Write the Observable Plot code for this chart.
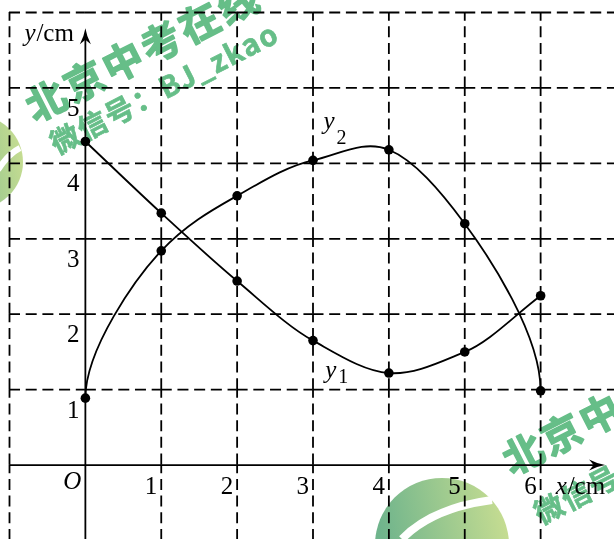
<!DOCTYPE html>
<html>
<head>
<meta charset="utf-8">
<script src="https://cdn.jsdelivr.net/npm/d3@7"></script>
<script src="https://cdn.jsdelivr.net/npm/@observablehq/plot@0.6"></script>
<style>
  html, body { margin: 0; padding: 0; background: #fff; overflow: hidden; }
  #wrap { position: relative; width: 614px; height: 539px; }
  #wrap > svg { display: block; }
  #stamp { position: absolute; left: 0; top: 0; pointer-events: none; mix-blend-mode: multiply; }
</style>
</head>
<body>
<div id="wrap"></div>
<script>
// Measured values of the two quantities at x = 0 … 6 cm
const xs = [0, 1, 2, 3, 4, 5, 6];
const y1 = [4.29, 3.34, 2.44, 1.65, 1.22, 1.50, 2.245];
const y2 = [0.887, 2.84, 3.57, 4.04, 4.18, 3.20, 0.985];

// Tick labels and grid positions
const xTicks = [1, 2, 3, 4, 5, 6];
const yTicks = [1, 2, 3, 4, 5];
const xGrid = [-1, 1, 2, 3, 4, 5, 6];
const yGrid = [1, 2, 3, 4, 5, 6];

// Curve names with subscripts
const curveNames = ["y", "y"];
const curveSubs = ["1", "2"];

const SERIF = "Liberation Serif";

// Smooth cubic Hermite curve through the points. Inner tangents use the
// harmonic mean of the neighbouring slopes when they agree in sign and their
// average otherwise; the end tangents follow the end chords or are vertical.
function hermite(verticalEnds) {
  return function (context) {
    let pts = [];
    return {
      areaStart() {}, areaEnd() {},
      lineStart() { pts = []; },
      point(x, y) { pts.push([+x, +y]); },
      lineEnd() {
        const n = pts.length;
        if (!n) return;
        context.moveTo(pts[0][0], pts[0][1]);
        if (n === 1) return;
        const tan = pts.map((p, i) => {
          if (i === 0) return verticalEnds ? [0, pts[1][1] - p[1]] : [pts[1][0] - p[0], pts[1][1] - p[1]];
          if (i === n - 1) return verticalEnds ? [0, p[1] - pts[n - 2][1]] : [p[0] - pts[n - 2][0], p[1] - pts[n - 2][1]];
          const a = pts[i - 1], b = pts[i + 1];
          const s0 = (p[1] - a[1]) / (p[0] - a[0]);
          const s1 = (b[1] - p[1]) / (b[0] - p[0]);
          const m = s0 * s1 > 0 ? 2 / (1 / s0 + 1 / s1) : (s0 + s1) / 2;
          const dx = (b[0] - a[0]) / 2;
          return [dx, m * dx];
        });
        for (let i = 0; i < n - 1; i++) {
          const a = pts[i], b = pts[i + 1], ta = tan[i], tb = tan[i + 1];
          context.bezierCurveTo(a[0] + ta[0] / 3, a[1] + ta[1] / 3, b[0] - tb[0] / 3, b[1] - tb[1] / 3, b[0], b[1]);
        }
      }
    };
  };
}

// Filled arrowheads (tip at the symbol origin)
const arrowUp = {
  draw(ctx) {
    ctx.moveTo(0, 0);
    ctx.quadraticCurveTo(1.3, 8, 5.5, 16);
    ctx.lineTo(0, 11.5);
    ctx.lineTo(-5.5, 16);
    ctx.quadraticCurveTo(-1.3, 8, 0, 0);
    ctx.closePath();
  }
};
const arrowRight = {
  draw(ctx) {
    ctx.moveTo(0, 0);
    ctx.quadraticCurveTo(-8, 1.3, -16, 5.5);
    ctx.lineTo(-11.5, 0);
    ctx.lineTo(-16, -5.5);
    ctx.quadraticCurveTo(-8, -1.3, 0, 0);
    ctx.closePath();
  }
};

const series1 = xs.map((x, i) => ({x, y: y1[i]}));
const series2 = xs.map((x, i) => ({x, y: y2[i]}));

// Dashed grid drawn cell edge by cell edge, so every crossing gets a dash
const hSeg = yGrid.flatMap(y => d3.range(-1, 7).map(x => ({y, x1: x, x2: x + 1})));
const vSeg = xGrid.flatMap(x => d3.range(-1, 6).map(y => ({x, y1: y, y2: y + 1})));
const dash = {stroke: "black", strokeWidth: 1.8, strokeDasharray: "11,5.7"};

const labelPos = [{x: 3.16, y: 1.15, sy: 1.093}, {x: 3.14, y: 4.45, sy: 4.26}];
const names = labelPos.map((p, i) => ({...p, name: curveNames[i], sub: curveSubs[i]}));

const txt = {fontFamily: SERIF, fontSize: 25, lineAnchor: "bottom", fill: "black"};

const chart = Plot.plot({
  width: 614,
  height: 539,
  marginLeft: 9,
  marginRight: -2,
  marginTop: 12,
  marginBottom: -1,
  x: {domain: [-1, 7], axis: null},
  y: {domain: [-1, 6], axis: null},
  style: {background: "white", fontFamily: SERIF},
  marks: [
    Plot.ruleY(hSeg, {y: "y", x1: "x1", x2: "x2", ...dash}),
    Plot.ruleX(vSeg, {x: "x", y1: "y1", y2: "y2", ...dash}),
    // axes
    Plot.ruleY([0], {x1: -1, x2: 6.75, stroke: "black", strokeWidth: 1.8}),
    Plot.ruleX([0], {y1: -1.2, y2: 5.7, stroke: "black", strokeWidth: 1.8}),
    Plot.dot([0], {x: 0, y: 5.79, symbol: arrowUp, r: 6, fill: "black", stroke: "none"}),
    Plot.dot([0], {x: 6.85, y: 0, symbol: arrowRight, r: 6, fill: "black", stroke: "none"}),
    // curves and measured points
    Plot.line(series1, {x: "x", y: "y", curve: hermite(false), stroke: "black", strokeWidth: 1.8}),
    Plot.line(series2, {x: "x", y: "y", curve: hermite(true), stroke: "black", strokeWidth: 1.8}),
    Plot.dot(series1, {x: "x", y: "y", r: 4.8, fill: "black"}),
    Plot.dot(series2, {x: "x", y: "y", r: 4.8, fill: "black"}),
    // tick labels
    Plot.text(yTicks, {x: 0, y: d => d, text: d => String(d), textAnchor: "end", dx: -6, dy: 28, ...txt}),
    Plot.text(xTicks, {x: d => d, y: 0, text: d => String(d), textAnchor: "end", dx: -4, dy: 29, ...txt}),
    Plot.text(["O"], {x: 0, y: 0, text: d => d, textAnchor: "end", dx: -4, dy: 24, fontStyle: "italic", ...txt}),
    // axis names
    Plot.text(["y"], {x: 0, y: 6, text: d => d, textAnchor: "start", dx: -61, dy: 28, fontStyle: "italic", ...txt}),
    Plot.text(["/cm"], {x: 0, y: 6, text: d => d, textAnchor: "start", dx: -49, dy: 28, ...txt}),
    Plot.text(["x"], {x: 6, y: 0, text: d => d, textAnchor: "start", dx: 15, dy: 29, fontStyle: "italic", ...txt}),
    Plot.text(["/cm"], {x: 6, y: 0, text: d => d, textAnchor: "start", dx: 27, dy: 29, ...txt}),
    // curve names y₁, y₂
    Plot.text(names, {x: "x", y: "y", text: "name", textAnchor: "start", fontStyle: "italic", ...txt}),
    Plot.text(names, {x: "x", y: "sy", text: "sub", textAnchor: "start", dx: 13, ...txt, fontSize: 20})
  ]
});

const wrap = document.getElementById("wrap");
wrap.appendChild(chart);

// Publisher stamp laid over the figure
const stamp = `
<svg id="stamp" width="614" height="539" xmlns="http://www.w3.org/2000/svg">
  <defs>
    <linearGradient id="lg" x1="0" y1="0.2" x2="1" y2="0">
      <stop offset="0" stop-color="#6fb48c"/>
      <stop offset="1" stop-color="#cde092"/>
    </linearGradient>
  </defs>
  <circle cx="-24" cy="162" r="47" fill="url(#lg)"/>
  <path d="M-2,170 Q8,154 20,148" fill="none" stroke="white" stroke-width="6"/>
  <circle cx="442" cy="545" r="67" fill="url(#lg)"/>
  <path d="M402,539 Q432,508 492,500" fill="none" stroke="white" stroke-width="8"/>
  <g fill="#66be88" stroke="#66be88" stroke-linejoin="round"
     font-family="'Noto Sans CJK SC', sans-serif" font-weight="700">
    <text transform="translate(35,123) rotate(-27)" font-size="40" letter-spacing="3" stroke-width="1.4">北京中考在线</text>
    <text transform="translate(57,155) rotate(-27)" font-size="29" letter-spacing="1.5" stroke-width="0.7">微信号：BJ_zkao</text>
    <text transform="translate(512,476) rotate(-27)" font-size="40" letter-spacing="3" stroke-width="1.4">北京中考在线</text>
    <text transform="translate(541,525) rotate(-27)" font-size="29" letter-spacing="1.5" stroke-width="0.7">微信号：BJ_zkao</text>
  </g>
</svg>`;
wrap.insertAdjacentHTML("beforeend", stamp);
</script>
</body>
</html>
